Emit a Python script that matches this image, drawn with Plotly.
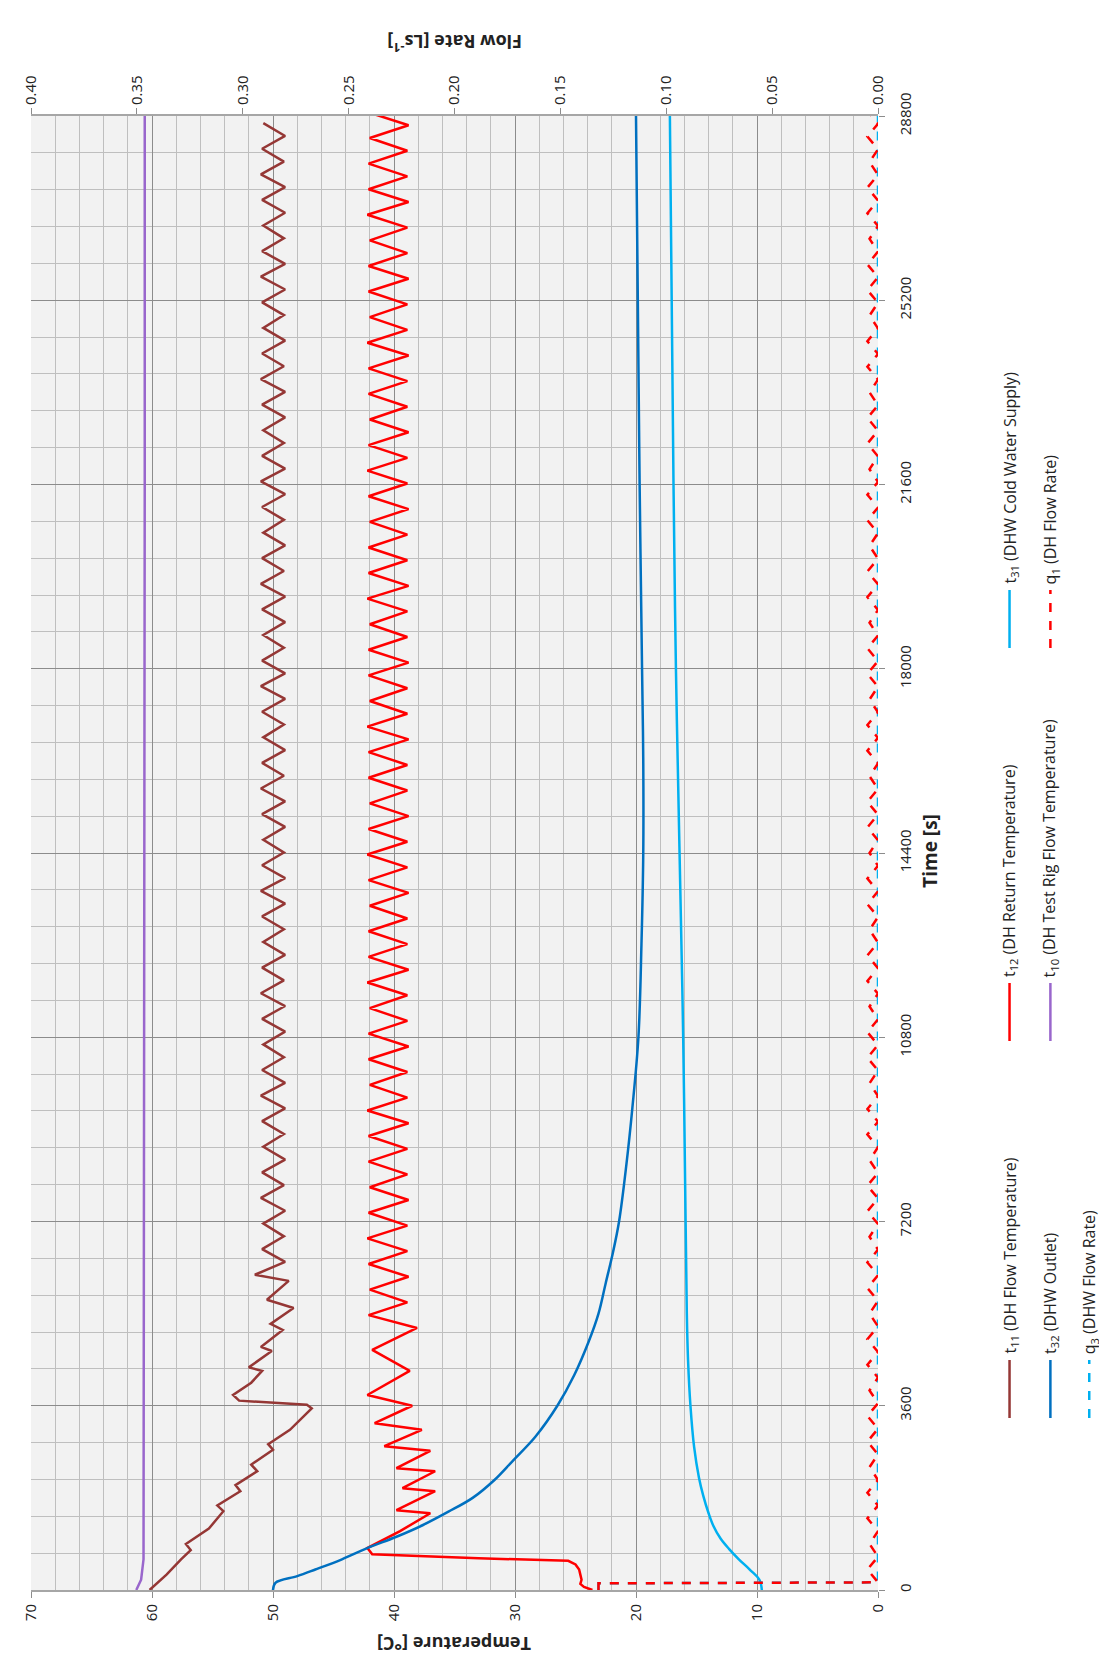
import plotly.graph_objects as go

# ---- data ----
t32_time = [0, 140, 270, 400, 600, 820, 1040, 1270, 1530, 1800, 2150, 2520, 3000, 3600,
            4200, 4860, 5400, 6000, 6600, 7200, 8300, 9420, 10800, 12600, 14400, 16200,
            18000, 21600, 25200, 28800]
t32_temp = [50.0, 49.8, 48.0, 46.5, 44.3, 42.2, 39.8, 37.6, 35.5, 33.5, 31.7, 30.2, 28.3,
            26.5, 25.1, 23.9, 23.1, 22.5, 21.9, 21.4, 20.8, 20.3, 19.8, 19.55, 19.4, 19.4,
            19.5, 19.7, 19.85, 20.0]

t31_time = [0, 200, 400, 600, 800, 1000, 1250, 1500, 1850, 2200, 2800, 3600, 4500, 5400,
            7200, 10800, 14400, 18000, 21600, 28800]
t31_temp = [9.6, 9.8, 10.6, 11.5, 12.3, 13.0, 13.6, 14.0, 14.45, 14.8, 15.2, 15.5, 15.7,
            15.8, 15.9, 16.1, 16.4, 16.7, 16.9, 17.2]

t10_time = [0, 200, 600, 7200, 14400, 21600, 28800]
t10_temp = [61.3, 60.9, 60.7, 60.65, 60.6, 60.6, 60.6]

t12_time_start = [0, 60, 120, 200, 300, 400, 500, 570, 620, 700, 820, 1150, 1500, 1560,
                  1930, 1990, 2320, 2380, 2720, 2810, 3130, 3260, 3600, 3810, 4280,
                  4690, 5120]
t12_temp_start = [23.6, 24.3, 24.6, 24.5, 24.6, 24.7, 25.0, 25.6, 33.0, 41.8, 42.2, 39.5,
                  37.0, 39.8, 36.6, 39.3, 36.6, 39.8, 37.0, 40.8, 37.7, 41.6, 38.5, 42.2,
                  38.7, 41.8, 38.1]
# steady cycling, one vertex every 250 s from 5370 s
t12_temp_cycle = [42.1, 38.9, 42.0, 38.8, 42.1, 38.9, 42.2, 38.9, 42.1, 38.8,
                  42.0, 38.9, 42.1, 38.9, 42.1, 38.8, 42.2, 38.9, 42.0, 38.9,
                  42.1, 38.8, 42.1, 38.9, 42.0, 38.9, 42.2, 38.8, 42.1, 38.9,
                  42.1, 38.9, 42.0, 38.8, 42.1, 38.9, 42.2, 38.9, 42.1, 38.8,
                  42.0, 38.9, 42.1, 38.9, 42.1, 38.8, 42.2, 38.9, 42.0, 38.9,
                  42.1, 38.8, 42.1, 38.9, 42.0, 38.9, 42.2, 38.8, 42.1, 38.9,
                  42.1, 38.9, 42.0, 38.8, 42.1, 38.9, 42.2, 38.9, 42.1, 38.8,
                  42.0, 38.9, 42.1, 38.9, 42.1, 38.8, 42.2, 38.9, 42.0, 38.9,
                  42.1, 38.8, 42.1, 38.9, 42.0, 38.9, 42.2, 38.8, 42.1, 38.9,
                  42.1, 38.9, 42.0, 38.8, 42.1]

t11_time_start = [0, 300, 600, 780, 900, 1200, 1540, 1650, 1930, 2050, 2320, 2450, 2740,
                  2850, 3130, 3300, 3550, 3620, 3700, 3810, 4050, 4280, 4350, 4670, 4750,
                  5080, 5200, 5510, 5670, 6040, 6160]
t11_temp_start = [60.2, 58.8, 57.6, 56.8, 57.2, 55.3, 54.1, 54.6, 52.7, 53.1, 51.3, 51.8,
                  50.0, 50.4, 48.6, 47.9, 46.8, 47.2, 52.8, 53.3, 51.8, 50.9, 52.0, 50.1,
                  51.0, 49.2, 50.2, 48.3, 50.5, 48.7, 51.5]
# steady cycling, one vertex every 250 s from 6410 s
t11_temp_cycle = [49.0, 50.9, 49.1, 50.8, 49.0, 51.0, 49.1, 50.9, 49.0, 50.8,
                  49.1, 50.9, 49.0, 51.0, 49.0, 50.9, 49.1, 50.8, 49.0, 50.9,
                  49.0, 51.0, 49.1, 50.9, 49.0, 50.8, 49.1, 50.9, 49.0, 51.0,
                  49.0, 50.9, 49.1, 50.8, 49.0, 50.9, 49.0, 51.0, 49.1, 50.9,
                  49.0, 50.8, 49.1, 50.9, 49.0, 51.0, 49.0, 50.9, 49.1, 50.8,
                  49.0, 50.9, 49.0, 51.0, 49.1, 50.9, 49.0, 50.8, 49.1, 50.9,
                  49.0, 51.0, 49.0, 50.9, 49.1, 50.8, 49.0, 50.9, 49.0, 51.0,
                  49.1, 50.9, 49.0, 50.8, 49.1, 50.9, 49.0, 51.0, 49.0, 50.9,
                  49.1, 50.8, 49.0, 50.9, 49.0, 51.0, 49.1, 50.9, 49.0, 50.8]

q3_time = [0, 130, 150, 28800]
q3_flow = [0.132, 0.132, 0.0, 0.0]

q1_time_start = [0, 130, 150]
q1_flow_start = [0.132, 0.132, 0.0]
# small pulses, one sample every 250 s from 400 s
q1_flow_cycle = [0.005, 0.0, 0.004, 0.0, 0.005, 0.0, 0.005, 0.0, 0.004, 0.0,
                 0.005, 0.0, 0.005, 0.0, 0.004, 0.0, 0.005, 0.0, 0.005, 0.0,
                 0.004, 0.0, 0.005, 0.0, 0.005, 0.0, 0.004, 0.0, 0.005, 0.0,
                 0.005, 0.0, 0.004, 0.0, 0.005, 0.0, 0.005, 0.0, 0.004, 0.0,
                 0.005, 0.0, 0.005, 0.0, 0.004, 0.0, 0.005, 0.0, 0.005, 0.0,
                 0.004, 0.0, 0.005, 0.0, 0.005, 0.0, 0.004, 0.0, 0.005, 0.0,
                 0.005, 0.0, 0.004, 0.0, 0.005, 0.0, 0.005, 0.0, 0.004, 0.0,
                 0.005, 0.0, 0.005, 0.0, 0.004, 0.0, 0.005, 0.0, 0.005, 0.0,
                 0.004, 0.0, 0.005, 0.0, 0.005, 0.0, 0.004, 0.0, 0.005, 0.0,
                 0.005, 0.0, 0.004, 0.0, 0.005, 0.0, 0.005, 0.0, 0.004, 0.0,
                 0.005, 0.0, 0.005, 0.0, 0.004, 0.0, 0.005, 0.0, 0.005, 0.0,
                 0.004, 0.0, 0.005, 0.0, 0.005]

t12_time = t12_time_start + [5370 + 250 * i for i in range(len(t12_temp_cycle))]
t12_temp = t12_temp_start + t12_temp_cycle
t11_time = t11_time_start + [6410 + 250 * i for i in range(len(t11_temp_cycle))]
t11_temp = t11_temp_start + t11_temp_cycle
q1_time = q1_time_start + [400 + 250 * i for i in range(len(q1_flow_cycle))]
q1_flow = q1_flow_start + q1_flow_cycle

BROWN, RED, PURPLE, DBLUE, LBLUE = "#953735", "#FF0000", "#9966CC", "#0070C0", "#00B0F0"
FONT = "Open Sans"

fig = go.Figure()
fig.add_trace(go.Scatter(x=t10_temp, y=t10_time, mode="lines", line=dict(color=PURPLE, width=2.5)))
fig.add_trace(go.Scatter(x=t11_temp, y=t11_time, mode="lines", line=dict(color=BROWN, width=2.5)))
fig.add_trace(go.Scatter(x=t12_temp, y=t12_time, mode="lines", line=dict(color=RED, width=2.5)))
fig.add_trace(go.Scatter(x=t32_temp, y=t32_time, mode="lines",
                         line=dict(color=DBLUE, width=2.5, shape="spline")))
fig.add_trace(go.Scatter(x=t31_temp, y=t31_time, mode="lines",
                         line=dict(color=LBLUE, width=2.5, shape="spline")))
fig.add_trace(go.Scatter(x=q3_flow, y=q3_time, xaxis="x2", mode="lines",
                         line=dict(color=LBLUE, width=2.5, dash="dash")))
fig.add_trace(go.Scatter(x=q1_flow, y=q1_time, xaxis="x2", mode="lines",
                         line=dict(color=RED, width=2.5, dash="dash")))

W, H = 1107, 1671
L, R, T, B = 20, 870, 108, 1582


def px(x):
    return (x - L) / (R - L)


def py(y):
    return (B - y) / (B - T)


shapes, annotations = [], []
legend = [
    (1002, 1410, BROWN, "solid", "t<sub>11</sub> (DH Flow Temperature)"),
    (1043, 1410, DBLUE, "solid", "t<sub>32</sub> (DHW Outlet)"),
    (1082, 1410, LBLUE, "dash", "q<sub>3</sub> (DHW Flow Rate)"),
    (1002, 1033, RED, "solid", "t<sub>12</sub> (DH Return Temperature)"),
    (1043, 1033, PURPLE, "solid", "t<sub>10</sub> (DH Test Rig Flow Temperature)"),
    (1002, 640, LBLUE, "solid", "t<sub>31</sub> (DHW Cold Water Supply)"),
    (1043, 640, RED, "dash", "q<sub>1</sub> (DH Flow Rate)"),
]
for x, y, c, d, txt in legend:
    shapes.append(dict(type="line", xref="paper", yref="paper", x0=px(x), x1=px(x),
                       y0=py(y), y1=py(y - 58), line=dict(color=c, width=2.5, dash=d)))
    annotations.append(dict(xref="paper", yref="paper", x=px(x), y=py(y - 62), text=txt,
                            textangle=-90, showarrow=False, xanchor="center", yanchor="bottom",
                            font=dict(family=FONT, size=16, color="#222")))

annotations += [
    dict(xref="paper", yref="paper", x=px(445), y=py(1650), text="<b>Temperature [°C]</b>",
         textangle=180, showarrow=False, font=dict(family=FONT, size=18, color="#222")),
    dict(xref="paper", yref="paper", x=px(445), y=py(20), text="<b>Flow Rate [Ls<sup>-1</sup>]</b>",
         textangle=180, showarrow=False, font=dict(family=FONT, size=18, color="#222")),
    dict(xref="paper", yref="paper", x=px(937), y=py(843), text="<b>Time [s]</b>",
         textangle=-90, showarrow=False, font=dict(family=FONT, size=19, color="#222")),
]

tickfont = dict(family=FONT, size=15, color="#222")
fig.update_layout(
    width=W, height=H,
    margin=dict(l=L, r=W - R, t=T, b=H - B),
    plot_bgcolor="#F2F2F2", paper_bgcolor="white",
    showlegend=False,
    shapes=shapes, annotations=annotations,
    xaxis=dict(range=[70, 0], dtick=10, tickangle=-90, tickfont=tickfont,
               showgrid=True, gridcolor="#8C8C8C", gridwidth=1.2,
               minor=dict(dtick=2, showgrid=True, gridcolor="#BFBFBF", gridwidth=1),
               ticks="outside", ticklen=6, tickcolor="#8C8C8C",
               showline=True, linecolor="#A6A6A6", linewidth=2, zeroline=False),
    xaxis2=dict(range=[0.4, 0], dtick=0.05, tickformat=".2f", tickangle=-90, tickfont=tickfont,
                overlaying="x", side="top", showgrid=False, ticks="outside", ticklen=6,
                tickcolor="#8C8C8C", showline=True, linecolor="#A6A6A6", linewidth=2,
                zeroline=False),
    yaxis=dict(range=[0, 28800], dtick=3600, tickformat="d", side="right", tickangle=-90,
               tickfont=tickfont,
               showgrid=True, gridcolor="#8C8C8C", gridwidth=1.2,
               minor=dict(dtick=720, showgrid=True, gridcolor="#BFBFBF", gridwidth=1),
               ticks="outside", ticklen=6, tickcolor="#8C8C8C", ticklabelstandoff=8,
               showline=False, zeroline=False),
)

fig.write_html("out.html")
